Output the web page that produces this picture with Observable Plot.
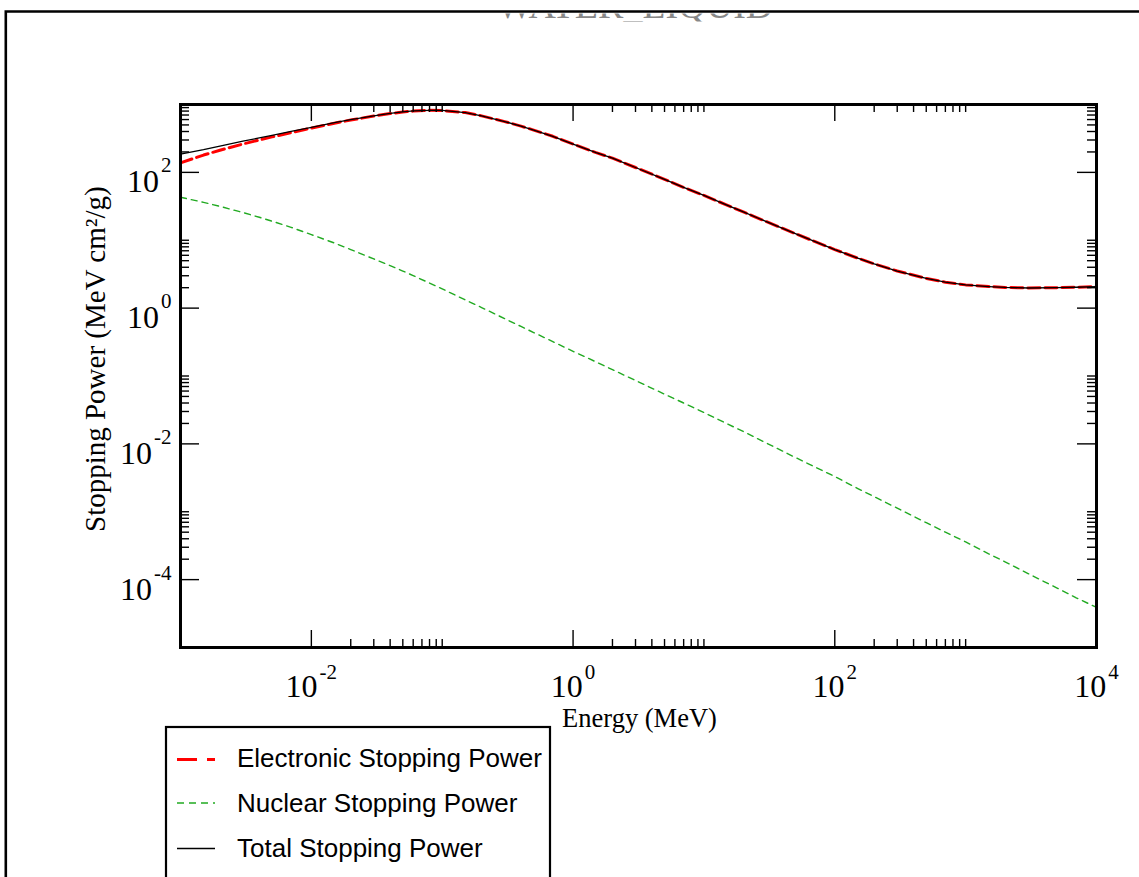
<!DOCTYPE html>
<html><head><meta charset="utf-8">
<script src="https://cdn.jsdelivr.net/npm/d3@7"></script>
<script src="https://cdn.jsdelivr.net/npm/@observablehq/plot@0.6"></script>
<style>
html,body{margin:0;padding:0;background:#fff;}
#wrap{position:relative;width:1139px;height:877px;overflow:hidden;background:#fff;}
</style></head><body><div id="wrap"></div>
<script>
// ---- data ----
const energy = [0.001, 0.0015, 0.002, 0.003, 0.004, 0.005, 0.007, 0.01, 0.015, 0.02, 0.03, 0.04, 0.05, 0.06, 0.08, 0.1, 0.15, 0.2, 0.3, 0.4, 0.5, 0.7, 1, 1.5, 2, 3, 5, 7, 10, 15, 20, 30, 50, 70, 100, 150, 200, 300, 500, 700, 1000, 1500, 2000, 3000, 5000, 7000, 10000];
const electronic = [138, 180, 212, 262, 300, 333, 385, 450, 530, 590, 675, 735, 775, 800, 820, 815, 760, 680, 560, 480, 420, 340, 261, 195, 162, 118, 79, 60, 45.7, 32.9, 26.1, 18.8, 12.5, 9.6, 7.29, 5.44, 4.49, 3.52, 2.74, 2.41, 2.2, 2.08, 2.02, 1.98, 2.0, 2.03, 2.07];
const nuclear = [43, 36.2, 31.6, 25.6, 21.8, 19.1, 15.5, 12.1, 9.1, 7.3, 5.3, 4.23, 3.52, 3.01, 2.34, 1.92, 1.32, 1.02, 0.70, 0.537, 0.437, 0.321, 0.231, 0.161, 0.124, 0.086, 0.054, 0.040, 0.029, 0.0198, 0.0152, 0.0103, 0.0063, 0.0046, 0.0033, 0.0022, 0.00167, 0.00113, 0.00069, 0.0005, 0.00036, 0.00024, 0.000183, 0.000123, 0.000075, 0.000054, 0.000039];
const total = [186, 216, 244, 288, 322, 352, 401, 462, 539, 597, 680, 739, 779, 803, 822, 817, 761, 681, 561, 480, 420, 340, 261, 195, 162, 118, 79, 60, 45.7, 32.9, 26.1, 18.8, 12.5, 9.6, 7.29, 5.44, 4.49, 3.52, 2.74, 2.41, 2.2, 2.08, 2.02, 1.98, 2.0, 2.03, 2.07];

const seriesNames = ["Electronic Stopping Power", "Nuclear Stopping Power", "Total Stopping Power"];
const titleText = "WATER_LIQUID";
const xTitle = "Energy (MeV)";
const yTitle = "Stopping Power (MeV cm\u00B2/g)";

const xMajor = [1e-2, 1e0, 1e2, 1e4];
const xMajorExp = ["-2", "0", "2", "4"];
const xMinor = [2e-2, 3e-2, 4e-2, 5e-2, 6e-2, 7e-2, 8e-2, 9e-2, 1e-1, 2, 3, 4, 5, 6, 7, 8, 9, 10, 200, 300, 400, 500, 600, 700, 800, 900, 1000];
const yMajor = [1e2, 1e0, 1e-2, 1e-4];
const yMajorExp = ["2", "0", "-2", "-4"];
const yMinor = [2e-4, 3e-4, 4e-4, 5e-4, 6e-4, 7e-4, 8e-4, 9e-4, 1e-3, 2e-2, 3e-2, 4e-2, 5e-2, 6e-2, 7e-2, 8e-2, 9e-2, 1e-1, 2, 3, 4, 5, 6, 7, 8, 9, 10, 200, 300, 400, 500, 600, 700, 800, 900, 1000];

// ---- layout ----
const W = 1139, H = 877, ML = 180, MR = 43, MT = 104, MB = 230;
const FW = W - ML - MR, FH = H - MT - MB;
const serif = "Liberation Serif", sans = "Liberation Sans";
const RED = "#ff0000", GREEN = "#22aa22", BLACK = "#000000";

const rows = energy.map((e, i) => ({energy: e, electronic: electronic[i], nuclear: nuclear[i], total: total[i]}));

const ctx = document.createElement("canvas").getContext("2d");
function tw(text, size, fam = serif) { ctx.font = `${size}px "${fam}"`; return ctx.measureText(text).width; }

const BASE = 32, EXP = 21, GAP = 2;
const labelMarks = [];
xMajor.forEach((v, i) => {
  const e = xMajorExp[i];
  const bw = tw("10", BASE), ew = tw(e, EXP);
  const tot = bw + GAP + ew;
  const baseEnd = -tot / 2 + bw;
  const d = [{v, e}];
  labelMarks.push(Plot.text(d, {x: "v", text: () => "10", frameAnchor: "bottom", textAnchor: "end", lineAnchor: "bottom", dx: baseEnd, dy: 49, fontSize: BASE, fontFamily: serif, fill: "black"}));
  labelMarks.push(Plot.text(d, {x: "v", text: "e", frameAnchor: "bottom", textAnchor: "start", lineAnchor: "bottom", dx: baseEnd + GAP, dy: 31, fontSize: EXP, fontFamily: serif, fill: "black"}));
});
yMajor.forEach((v, i) => {
  const e = yMajorExp[i];
  const ew = tw(e, EXP);
  const d = [{v, e}];
  labelMarks.push(Plot.text(d, {y: "v", text: "e", frameAnchor: "left", textAnchor: "end", lineAnchor: "bottom", dx: -9, dy: 0, fontSize: EXP, fontFamily: serif, fill: "black"}));
  labelMarks.push(Plot.text(d, {y: "v", text: () => "10", frameAnchor: "left", textAnchor: "end", lineAnchor: "bottom", dx: -9 - ew - GAP, dy: 20, fontSize: BASE, fontFamily: serif, fill: "black"}));
});

const tickStyle = {stroke: "black", strokeWidth: 1.4};
const svg = Plot.plot({
  width: W, height: H,
  marginLeft: ML, marginRight: MR, marginTop: MT, marginBottom: MB,
  style: {background: "white"},
  x: {type: "log", domain: [1e-3, 1e4], axis: null},
  y: {type: "log", domain: [1e-5, 1e3], axis: null},
  marks: [
    Plot.line(rows, {x: "energy", y: "electronic", stroke: RED, strokeWidth: 3, strokeDasharray: "12,5"}),
    Plot.line(rows, {x: "energy", y: "nuclear", stroke: GREEN, strokeWidth: 1.4, strokeDasharray: "6,5"}),
    Plot.line(rows, {x: "energy", y: "total", stroke: BLACK, strokeWidth: 1.3}),
    // inward ticks on all four sides
    Plot.ruleX(xMajor, {x: d => d, insetTop: FH - 17, ...tickStyle}),
    Plot.ruleX(xMajor, {x: d => d, insetBottom: FH - 17, ...tickStyle}),
    Plot.ruleX(xMinor, {x: d => d, insetTop: FH - 8, ...tickStyle}),
    Plot.ruleX(xMinor, {x: d => d, insetBottom: FH - 8, ...tickStyle}),
    Plot.ruleY(yMajor, {y: d => d, insetRight: FW - 19, ...tickStyle}),
    Plot.ruleY(yMajor, {y: d => d, insetLeft: FW - 19, ...tickStyle}),
    Plot.ruleY(yMinor, {y: d => d, insetRight: FW - 9, ...tickStyle}),
    Plot.ruleY(yMinor, {y: d => d, insetLeft: FW - 9, ...tickStyle}),
    Plot.frame({stroke: "black", strokeWidth: 3}),
    ...labelMarks,
    Plot.text([xTitle], {frameAnchor: "bottom", text: d => d, textAnchor: "middle", lineAnchor: "bottom", dx: 1, dy: 79, fontSize: 26.5, fontFamily: serif, fill: "black"}),
    Plot.text([yTitle], {frameAnchor: "left", text: d => d, rotate: -90, textAnchor: "start", lineAnchor: "bottom", dx: -76, dy: 156, fontSize: 29, fontFamily: serif, fill: "black"})
  ]
});

const wrap = document.getElementById("wrap");
wrap.appendChild(svg);
const s = d3.select(svg);

// title: only its lower edge shows below the page border, as in the reference
const defs = s.append("defs");
defs.append("clipPath").attr("id", "title-clip").attr("clipPathUnits", "userSpaceOnUse")
  .append("rect").attr("x", 0).attr("y", 13.5).attr("width", W).attr("height", 8);
s.append("g").attr("clip-path", "url(#title-clip)")
  .append("text").attr("x", 635).attr("y", 17.5).attr("text-anchor", "middle")
  .attr("font-family", serif).attr("font-size", 38).attr("fill", "#888").text(titleText);

// outer page border
s.append("path").attr("d", `M5.8,${H + 10}V11.5H${W + 10}`).attr("fill", "none").attr("stroke", "black").attr("stroke-width", 2.6);

// legend
const lg = s.append("g").attr("class", "legend").attr("text-anchor", "start");
lg.append("rect").attr("x", 166).attr("y", 727).attr("width", 384).attr("height", 220)
  .attr("fill", "white").attr("stroke", "black").attr("stroke-width", 2.2);
const legStyles = [
  {stroke: RED, width: 3, dash: "20,10"},
  {stroke: GREEN, width: 1.5, dash: "7,5"},
  {stroke: BLACK, width: 1.3, dash: null}
];
const legLineY = [759.5, 803, 848.5];
const legTextY = [767, 811.5, 857];
seriesNames.forEach((name, i) => {
  const st = legStyles[i];
  const ln = lg.append("line").attr("x1", 177).attr("x2", 215).attr("y1", legLineY[i]).attr("y2", legLineY[i])
    .attr("stroke", st.stroke).attr("stroke-width", st.width);
  if (st.dash) ln.attr("stroke-dasharray", st.dash);
  lg.append("text").attr("x", 237).attr("y", legTextY[i]).attr("text-anchor", "start")
    .attr("font-family", sans).attr("font-size", 26).attr("fill", "black").text(name);
});
</script>
</body></html>
